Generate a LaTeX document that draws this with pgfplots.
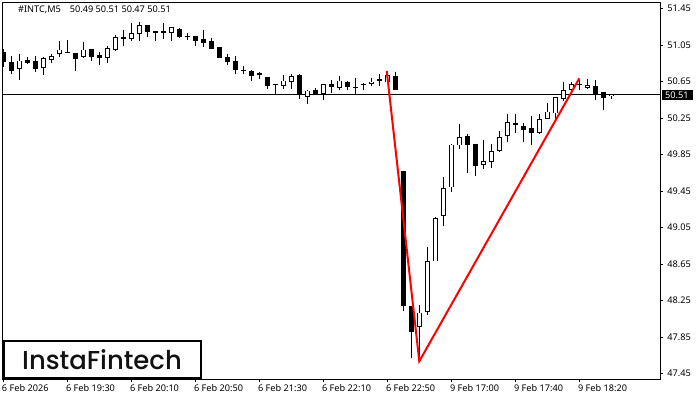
\documentclass[border=0pt]{standalone}
\usepackage{pgfplots}
\usepackage{pgfplotstable}
\usepackage{fontspec}
\pgfplotsset{compat=1.18}
\setmainfont{Noto Sans}
\newfontfamily\logofont{Poppins Medium}
\pgfplotstableread{
i hi lo top bot
0 51.01 50.81 50.97 50.86
1 50.93 50.73 50.86 50.77
3 50.92 50.84 50.89 50.85
4 50.93 50.75 50.88 50.79
8 51.10 50.96 50.97 50.96
9 50.96 50.77 50.96 50.90
11 51.01 50.88 51.01 50.92
12 50.97 50.83 50.94 50.91
15 51.21 51.04 51.14 51.12
18 51.27 51.14 51.27 51.19
19 51.20 51.09 51.20 51.18
20 51.29 51.12 51.20 51.18
22 51.24 51.13 51.23 51.14
23 51.18 51.10 51.15 51.14
24 51.15 51.04 51.15 51.09
25 51.21 51.03 51.12 51.07
26 51.13 51.01 51.09 51.01
27 51.03 50.91 51.03 50.91
28 50.95 50.83 50.92 50.86
29 50.93 50.73 50.88 50.78
30 50.82 50.73 50.78 50.77
31 50.78 50.66 50.76 50.71
32 50.75 50.68 50.74 50.72
33 50.70 50.57 50.70 50.60
34 50.62 50.51 50.62 50.61
37 50.73 50.46 50.72 50.50
39 50.58 50.50 50.56 50.51
41 50.67 50.52 50.62 50.59
43 50.66 50.56 50.65 50.59
44 50.69 50.51 50.59 50.58
45 50.63 50.56 50.62 50.61
47 50.73 50.60 50.68 50.66
49 50.75 50.56 50.71 50.56
50 49.67 48.14 49.67 48.19
51 48.19 47.62 48.19 47.91
58 50.08 49.65 50.05 49.95
59 49.97 49.61 49.97 49.73
64 50.29 50.09 50.20 50.17
65 50.20 49.99 50.16 50.12
66 50.27 49.96 50.14 50.09
72 50.67 50.56 50.62 50.61
74 50.67 50.45 50.60 50.51
75 50.53 50.34 50.53 50.47
}\bears
\pgfplotstableread{
i hi lo top bot
2 50.95 50.67 50.88 50.79
5 50.92 50.72 50.91 50.80
6 50.95 50.85 50.93 50.89
7 51.09 50.92 51.00 50.95
10 51.08 50.91 51.00 50.92
13 51.04 50.85 51.02 50.91
14 51.16 50.98 51.14 51.00
16 51.29 51.09 51.18 51.12
17 51.30 51.09 51.27 51.17
21 51.25 51.09 51.25 51.18
35 50.72 50.57 50.66 50.60
36 50.73 50.57 50.71 50.65
38 50.56 50.40 50.55 50.48
40 50.62 50.45 50.62 50.51
42 50.71 50.56 50.66 50.58
46 50.69 50.60 50.65 50.62
48 50.75 50.63 50.72 50.64
52 48.20 47.59 48.12 47.96
53 48.84 48.09 48.68 48.13
54 49.17 48.68 49.15 48.68
55 49.60 49.07 49.48 49.18
56 49.97 49.44 49.96 49.49
57 50.18 49.91 50.04 49.95
60 50.01 49.69 49.78 49.74
61 49.97 49.70 49.89 49.77
62 50.11 49.88 50.04 49.89
63 50.29 49.99 50.21 50.05
67 50.29 50.08 50.24 50.09
68 50.42 50.24 50.32 50.24
69 50.48 50.23 50.48 50.30
70 50.64 50.44 50.56 50.46
71 50.65 50.52 50.62 50.56
73 50.68 50.57 50.61 50.58
76 50.51 50.46 50.51 50.49
}\bulls
\begin{document}
\begin{tikzpicture}[x=1bp,y=1bp]
\path[use as bounding box] (0,0) rectangle (700,400);
\begin{axis}[
  at={(2.7bp,20.7bp)}, anchor=south west,
  scale only axis, width=657.6bp, height=376.6bp,
  xmin=-0.075, xmax=82.125, ymin=47.3885, ymax=51.5134,
  axis line style={line width=1bp, black},
  tick style={line width=0.8bp, black},
  tick align=outside, major tick length=3bp,
  xtick pos=bottom, ytick pos=right,
  xtick={0,8,16,24,32,40,48,56,64,72},
  xticklabels={6 Feb 2026,6 Feb 19:30,6 Feb 20:10,6 Feb 20:50,6 Feb 21:30,6 Feb 22:10,6 Feb 22:50,9 Feb 17:00,9 Feb 17:40,9 Feb 18:20},
  ytick={47.45,47.85,48.25,48.65,49.05,49.45,49.85,50.25,50.65,51.05,51.45},
  /pgf/number format/fixed,
  /pgf/number format/fixed zerofill,
  /pgf/number format/precision=2,
  /pgf/number format/assume math mode=true,
  every tick label/.append style={font=\fontsize{9.2}{10}\selectfont, black},
  x tick label style={anchor=north west, xshift=-2.5bp, yshift=1bp, inner xsep=1bp},
  y tick label style={anchor=west, xshift=0.5bp},
  clip=true,
]
% last price line
\addplot[black, line width=1bp] coordinates {(-0.075,50.51) (82.125,50.51)};
% wicks
\addplot[draw=none, no markers, error bars/.cd, y dir=both, y explicit, error mark=none,
  error bar style={line width=1bp, black}]
  table[x=i, y=top, y error plus expr=\thisrow{hi}-\thisrow{top}, y error minus expr=\thisrow{top}-\thisrow{lo}] {\bears};
\addplot[draw=none, no markers, error bars/.cd, y dir=both, y explicit, error mark=none,
  error bar style={line width=1bp, black}]
  table[x=i, y=top, y error plus expr=\thisrow{hi}-\thisrow{top}, y error minus expr=\thisrow{top}-\thisrow{lo}] {\bulls};
% bodies
\addplot[draw=none, no markers, error bars/.cd, y dir=minus, y explicit, error mark=none,
  error bar style={line width=5bp, black}]
  table[x=i, y=top, y error minus expr=\thisrow{top}-\thisrow{bot}] {\bears};
\addplot[draw=none, no markers, error bars/.cd, y dir=minus, y explicit, error mark=none,
  error bar style={line width=5bp, black}]
  table[x=i, y=top, y error minus expr=\thisrow{top}-\thisrow{bot}] {\bulls};
\addplot[draw=none, no markers, error bars/.cd, y dir=minus, y explicit, error mark=none,
  error bar style={line width=3.4bp, white}]
  table[x=i, y expr=\thisrow{top}-0.009, y error minus expr={max(\thisrow{top}-\thisrow{bot}-0.018,0)}] {\bulls};
% pattern
\addplot[red, line width=2bp, line join=miter] coordinates {(47.93,50.765) (52.0,47.586) (72.0,50.685)};
\end{axis}
% header
\node[anchor=west, inner sep=0pt, font=\fontsize{9.2}{10}\selectfont] at (18,390) {\#INTC,M5\hspace{9bp}50.49 50.51 50.47 50.51};
% price tag
\fill[black] (662,300) rectangle (693,310);
\node[anchor=west, inner sep=0pt, text=white, font=\fontsize{9.2}{10}\selectfont] at (665,305) {50.51};
% logo
\draw[line width=2bp, black, fill=white] (3.7,22) rectangle (201,59);
\node[anchor=center, inner sep=0pt, text={rgb,255:red,17;green,17;blue,17}, font=\logofont\fontsize{26}{30}\selectfont] at (102,40.5) {InstaFintech};
\end{tikzpicture}
\end{document}
